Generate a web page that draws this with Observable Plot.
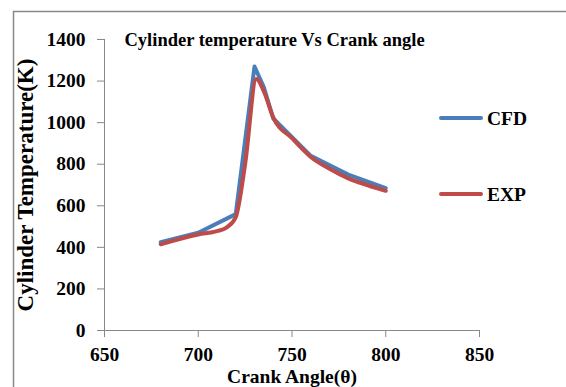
<!DOCTYPE html>
<html><head><meta charset="utf-8">
<script src="https://cdn.jsdelivr.net/npm/d3@7"></script>
<script src="https://cdn.jsdelivr.net/npm/@observablehq/plot@0.6"></script>
<style>
body{margin:0;background:#fff;}
svg, svg text{font-family:"Liberation Serif","Times New Roman",serif !important;}
</style>
</head><body><div id="chart"></div>
<script>
const cfdAngle = [680, 700, 720, 730, 735, 740, 760, 780, 800];
const cfdTemp  = [425, 470, 560, 1270, 1170, 1020, 840, 750, 685];
const expAngle = [680, 700, 710, 715, 720, 725, 731, 735, 740, 750, 760, 770, 780, 790, 800];
const expTemp  = [415, 462, 478, 495, 545, 800, 1210, 1150, 1025, 925, 835, 778, 732, 700, 672];
const xTicks = [650, 700, 750, 800, 850];
const yTicks = [0, 200, 400, 600, 800, 1000, 1200, 1400];
const seriesNames = ["CFD", "EXP"];
const colors = ["#4A7EBB", "#BE4B48"];
const title = "Cylinder temperature Vs Crank angle";

const cfd = cfdAngle.map((a, i) => ({a, t: cfdTemp[i]}));
const exp = expAngle.map((a, i) => ({a, t: expTemp[i]}));
const ff = '"Liberation Serif","Times New Roman",serif';

const plot = Plot.plot({
  width: 566, height: 387,
  marginLeft: 104, marginRight: 87, marginTop: 39, marginBottom: 57,
  style: {fontFamily: ff, fontSize: "19px", fontWeight: "bold", color: "#000"},
  x: {domain: [650, 850]},
  y: {domain: [0, 1400]},
  marks: [
    Plot.axisX({ticks: xTicks, tickFormat: d => String(d), tickSize: 7, tickPadding: 10, stroke: "#888", fill: "#000",
      fontFamily: ff, fontSize: 19.5, fontWeight: "bold", label: null}),
    Plot.axisX({ticks: [], label: "Crank Angle(θ)", labelAnchor: "center", labelArrow: "none", labelOffset: 52,
      fontFamily: ff, fontSize: 19.5, fontWeight: "bold", fill: "#000"}),
    Plot.axisY({ticks: yTicks, tickFormat: d => String(d), tickSize: 7, tickPadding: 12, stroke: "#888", fill: "#000",
      fontFamily: ff, fontSize: 19.5, fontWeight: "bold", label: null}),
    Plot.axisY({ticks: [], label: "Cylinder Temperature(K)", labelAnchor: "center", labelArrow: "none", labelOffset: 88,
      fontFamily: ff, fontSize: 23, fontWeight: "bold", fill: "#000", dx: 5}),
    Plot.ruleX([650], {stroke: "#888"}),
    Plot.ruleY([0], {stroke: "#888"}),
    Plot.line(cfd, {x: "a", y: "t", stroke: colors[0], strokeWidth: 4, curve: "linear"}),
    Plot.line(exp, {x: "a", y: "t", stroke: colors[1], strokeWidth: 4, curve: "monotone-x"}),
    Plot.text([title], {frameAnchor: "top-left", dx: 20, dy: -7, fontSize: 18.5, fontWeight: "bold", fill: "#000", textAnchor: "start"})
  ]
});

const svg = d3.select(plot);
svg.append("path").attr("d", "M13.5,387 L13.5,11.5 L566,11.5").attr("fill", "none").attr("stroke", "#888").attr("stroke-width", 1.5);
const leg = svg.append("g");
seriesNames.forEach((n, i) => {
  const y = 118 + i * 76;
  leg.append("line").attr("x1", 441).attr("x2", 481).attr("y1", y).attr("y2", y)
    .attr("stroke", colors[i]).attr("stroke-width", 4).attr("stroke-linecap", "round");
  leg.append("text").attr("x", 487).attr("y", y).attr("dy", "0.35em").attr("text-anchor", "start")
    .attr("font-size", 19.5).attr("font-weight", "bold").text(n);
});
document.getElementById("chart").appendChild(plot);
</script>
</body></html>
